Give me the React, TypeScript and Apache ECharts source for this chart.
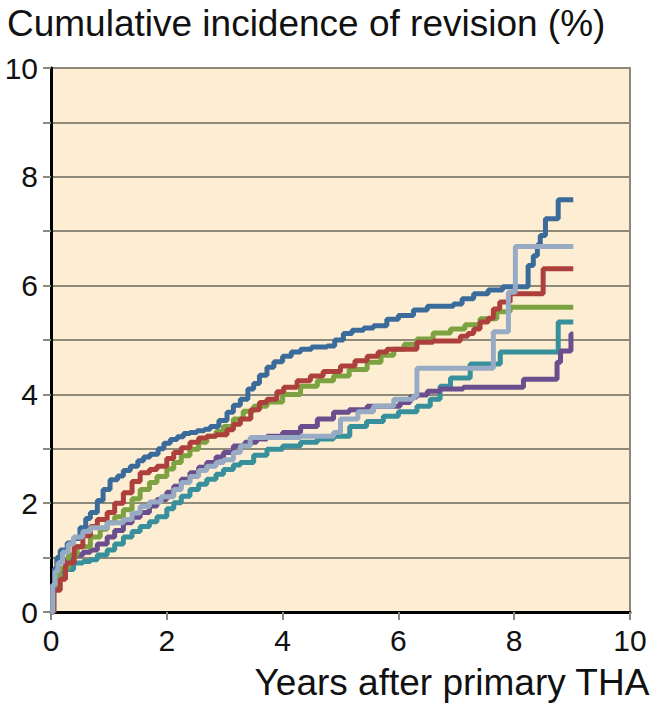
import React, { useEffect, useRef } from "react";
import * as echarts from "echarts";

const titleText = "Cumulative incidence of revision (%)";
const xAxisTitle = "Years after primary THA";
const xMin = 0;
const xMax = 10;
const xInterval = 2;
const yMin = 0;
const yMax = 10;
const yInterval = 1;

// [years, cumulative incidence %] — step points (value jumps at given time)
const blueSeries = [
  [0, 0], [0.03, 0.5], [0.06, 0.8], [0.1, 1.0], [0.16, 1.14], [0.28, 1.27], [0.39, 1.35], [0.5, 1.55],
  [0.6, 1.72], [0.68, 1.83], [0.8, 2.05], [0.9, 2.25], [1.02, 2.43], [1.15, 2.5], [1.25, 2.6], [1.37, 2.68],
  [1.5, 2.78], [1.6, 2.85], [1.71, 2.9], [1.85, 3.0], [1.95, 3.1], [2.06, 3.17], [2.18, 3.22], [2.29, 3.28],
  [2.4, 3.3], [2.52, 3.33], [2.65, 3.36], [2.75, 3.41], [2.9, 3.52], [3.04, 3.67], [3.15, 3.8], [3.27, 3.91],
  [3.4, 4.1], [3.5, 4.2], [3.6, 4.35], [3.73, 4.5], [3.85, 4.6], [4.0, 4.7], [4.15, 4.78], [4.31, 4.83],
  [4.5, 4.87], [4.77, 4.89], [4.9, 5.0], [5.05, 5.12], [5.2, 5.18], [5.4, 5.22], [5.57, 5.26], [5.8, 5.38],
  [6.0, 5.45], [6.26, 5.55], [6.5, 5.62], [6.95, 5.66], [7.1, 5.76], [7.3, 5.85], [7.55, 5.92], [7.8, 5.98],
  [8.24, 6.37], [8.33, 6.55], [8.4, 6.75], [8.45, 6.92], [8.54, 7.23], [8.76, 7.58], [9.02, 7.58],
];
const redSeries = [
  [0, 0], [0.05, 0.4], [0.16, 0.6], [0.25, 0.9], [0.4, 1.2], [0.55, 1.4], [0.68, 1.57], [0.8, 1.7],
  [0.97, 1.83], [1.1, 2.0], [1.25, 2.19], [1.4, 2.4], [1.54, 2.56], [1.7, 2.62], [1.83, 2.68], [2.0, 2.82],
  [2.12, 2.93], [2.25, 3.02], [2.4, 3.12], [2.55, 3.2], [2.69, 3.23], [2.85, 3.26], [3.04, 3.35], [3.15, 3.45],
  [3.27, 3.55], [3.45, 3.72], [3.6, 3.85], [3.73, 3.91], [3.9, 4.05], [4.02, 4.13], [4.25, 4.25], [4.48, 4.34],
  [4.7, 4.42], [5.0, 4.52], [5.25, 4.62], [5.46, 4.7], [5.65, 4.78], [5.8, 4.83], [6.32, 4.96], [6.6, 4.98],
  [7.07, 5.07], [7.2, 5.12], [7.3, 5.2], [7.41, 5.33], [7.55, 5.4], [7.64, 5.57], [7.75, 5.7], [7.93, 5.85],
  [8.5, 6.31], [9.02, 6.31],
];
const greenSeries = [
  [0, 0], [0.05, 0.5], [0.15, 0.8], [0.3, 1.05], [0.45, 1.2], [0.68, 1.38], [0.85, 1.52], [0.97, 1.64],
  [1.1, 1.75], [1.25, 1.88], [1.4, 2.08], [1.54, 2.25], [1.7, 2.38], [1.83, 2.49], [2.0, 2.63], [2.12, 2.75],
  [2.25, 2.87], [2.4, 2.99], [2.55, 3.12], [2.69, 3.23], [2.85, 3.32], [2.98, 3.41], [3.15, 3.55], [3.32, 3.69],
  [3.5, 3.78], [3.73, 3.86], [4.0, 4.0], [4.31, 4.15], [4.6, 4.25], [4.88, 4.34], [5.15, 4.46], [5.46, 4.59],
  [5.7, 4.72], [5.92, 4.83], [6.1, 4.92], [6.32, 5.02], [6.6, 5.13], [6.9, 5.2], [7.15, 5.28], [7.41, 5.39],
  [7.7, 5.52], [7.93, 5.6], [9.02, 5.6],
];
const purpleSeries = [
  [0, 0], [0.04, 0.5], [0.1, 0.75], [0.25, 0.95], [0.39, 1.05], [0.55, 1.1], [0.68, 1.14], [0.8, 1.25],
  [0.97, 1.38], [1.1, 1.5], [1.25, 1.64], [1.4, 1.74], [1.54, 1.83], [1.7, 1.95], [1.83, 2.07], [2.0, 2.2],
  [2.12, 2.31], [2.25, 2.44], [2.4, 2.56], [2.55, 2.66], [2.69, 2.75], [2.85, 2.85], [2.98, 2.93], [3.15, 3.05],
  [3.35, 3.12], [3.55, 3.18], [3.73, 3.23], [4.0, 3.3], [4.31, 3.41], [4.6, 3.55], [4.88, 3.67], [5.15, 3.72],
  [5.46, 3.78], [6.03, 3.85], [6.2, 3.95], [6.32, 3.99], [6.5, 4.06], [6.72, 4.1], [7.12, 4.13], [8.16, 4.28],
  [8.74, 4.59], [8.8, 4.8], [8.98, 5.11], [9.02, 5.11],
];
const greySeries = [
  [0, 0], [0.03, 0.5], [0.07, 0.75], [0.12, 0.9], [0.2, 1.1], [0.3, 1.25], [0.39, 1.38], [0.55, 1.48],
  [0.68, 1.55], [0.97, 1.64], [1.25, 1.7], [1.4, 1.82], [1.54, 1.94], [1.7, 2.02], [1.9, 2.12], [2.12, 2.25],
  [2.25, 2.38], [2.4, 2.49], [2.55, 2.6], [2.69, 2.68], [2.85, 2.75], [2.98, 2.8], [3.15, 2.93], [3.27, 3.05],
  [3.44, 3.21], [4.31, 3.23], [4.88, 3.3], [5.0, 3.55], [5.3, 3.68], [5.57, 3.78], [5.92, 3.91], [6.26, 3.97],
  [6.32, 4.48], [7.64, 5.15], [7.9, 5.88], [8.02, 6.72], [9.02, 6.72],
];
const tealSeries = [
  [0, 0], [0.04, 0.45], [0.1, 0.65], [0.2, 0.78], [0.39, 0.9], [0.55, 0.93], [0.68, 0.96], [0.8, 1.05],
  [0.97, 1.14], [1.1, 1.25], [1.25, 1.38], [1.4, 1.48], [1.54, 1.57], [1.7, 1.66], [1.83, 1.75], [2.0, 1.9],
  [2.12, 2.01], [2.25, 2.13], [2.4, 2.25], [2.55, 2.35], [2.69, 2.44], [2.85, 2.53], [2.98, 2.62], [3.15, 2.7],
  [3.27, 2.75], [3.5, 2.88], [3.73, 2.99], [4.0, 3.05], [4.31, 3.12], [4.6, 3.18], [4.88, 3.23], [5.16, 3.41],
  [5.45, 3.5], [5.74, 3.6], [6.0, 3.68], [6.32, 3.78], [6.55, 3.91], [6.72, 4.15], [6.9, 4.3], [7.24, 4.56],
  [7.76, 4.78], [8.76, 5.33], [9.02, 5.33],
];

const seriesList = [
  { name: "teal", data: tealSeries, color: "#37909b" },
  { name: "purple", data: purpleSeries, color: "#6a4e8d" },
  { name: "green", data: greenSeries, color: "#7ca242" },
  { name: "red", data: redSeries, color: "#ad403c" },
  { name: "blue", data: blueSeries, color: "#3b6b9b" },
  { name: "grey", data: greySeries, color: "#97abc5" },
];

const FONT = "'Liberation Sans', Arial, Helvetica, sans-serif";

export default function App() {
  const ref = useRef<HTMLDivElement>(null);
  useEffect(() => {
    if (!ref.current) return;
    const chart = echarts.init(ref.current, null, { renderer: "svg" });
    chart.setOption({
      animation: false,
      backgroundColor: "#ffffff",
      title: {
        text: titleText,
        left: 2,
        top: 0,
        textStyle: { fontFamily: FONT, fontSize: 37, fontWeight: "normal", color: "#111111" },
      },
      graphic: [
        {
          type: "text",
          right: 3,
          top: 664,
          style: { text: xAxisTitle, font: `37px ${FONT}`, fill: "#111111" },
        },
      ],
      grid: {
        left: 51,
        right: 23,
        top: 68,
        bottom: 92,
        show: true,
        backgroundColor: "#fdeed3",
        borderColor: "#8d8a7a",
        borderWidth: 2,
      },
      xAxis: {
        type: "value",
        min: xMin,
        max: xMax,
        interval: xInterval,
        axisLine: { show: true, lineStyle: { color: "#000000", width: 3 } },
        axisTick: { show: true, length: 8, lineStyle: { color: "#8d8a7a", width: 2 } },
        axisLabel: { fontFamily: FONT, fontSize: 30, color: "#111111", margin: 13 },
        splitLine: { show: false },
      },
      yAxis: {
        type: "value",
        min: yMin,
        max: yMax,
        interval: yInterval,
        axisLine: { show: true, lineStyle: { color: "#000000", width: 3 } },
        axisTick: { show: true, length: 8, lineStyle: { color: "#8d8a7a", width: 2 } },
        axisLabel: {
          fontFamily: FONT,
          fontSize: 30,
          color: "#111111",
          margin: 13,
          formatter: (v: number) => (v % 2 === 0 ? String(v) : ""),
        },
        splitLine: { show: true, lineStyle: { color: "#8d8a7a", width: 2 } },
      },
      series: seriesList.map((s) => ({
        name: s.name,
        type: "line",
        step: "end",
        data: s.data,
        symbol: "none",
        lineStyle: { color: s.color, width: 5 },
        itemStyle: { color: s.color },
      })),
    });
    return () => chart.dispose();
  }, []);
  return (
    <div
      ref={ref}
      style={{ position: "fixed", left: 0, top: 0, width: 653, height: 704 }}
    />
  );
}
